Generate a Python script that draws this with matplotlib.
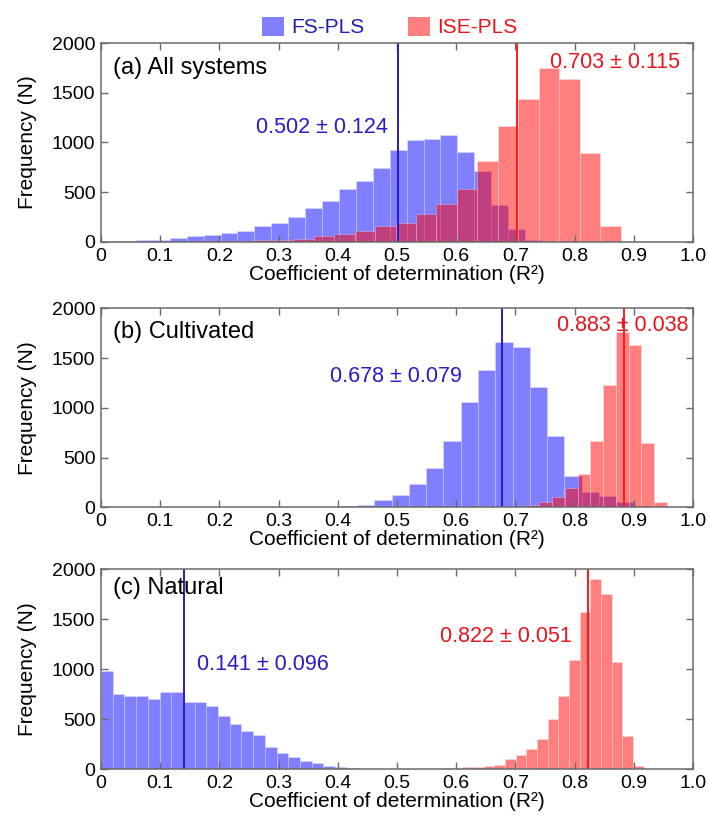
import numpy as np
import matplotlib
matplotlib.use("Agg")
import matplotlib.pyplot as plt
from matplotlib.patches import Patch
from matplotlib.transforms import blended_transform_factory

plt.rcParams["font.family"] = ["Liberation Sans", "DejaVu Sans"]

# Histogram bins: first edge, bin width and counts for each panel
fs_all_start, fs_all_width = 0.002, 0.02857
fs_all_counts = [8, 12, 18, 25, 40, 57, 67, 90, 114, 157, 191, 248, 342, 415,
                 536, 610, 740, 921, 1028, 1039, 1079, 901, 710, 375, 134, 17]
ise_all_start, ise_all_width = 0.0128, 0.03462
ise_all_counts = [1, 2, 3, 4, 6, 8, 11, 16, 23, 34, 57, 84, 114, 157, 195, 281,
                  385, 536, 817, 1162, 1437, 1749, 1638, 894, 164]

fs_cult_start, fs_cult_width = 0.199, 0.02919
fs_cult_counts = [1, 1, 2, 3, 4, 6, 10, 15, 22, 75, 125, 233, 393, 668, 1057,
                  1385, 1665, 1615, 1210, 718, 318, 160, 120, 60, 15]
ise_cult_start, ise_cult_width = 0.4165, 0.02158
ise_cult_counts = [0, 0, 0, 0, 1, 1, 1, 2, 2, 3, 4, 5, 7, 10, 30, 55, 109, 200,
                   336, 668, 1230, 1766, 1632, 644, 59]

fs_nat_start, fs_nat_width = 0.0, 0.01977
fs_nat_counts = [982, 750, 733, 733, 700, 767, 775, 670, 670, 634, 534, 454,
                 381, 343, 226, 166, 126, 83, 60, 33, 20, 10, 6, 4, 3]
ise_nat_start, ise_nat_width = 0.466, 0.01802
ise_nat_counts = [1, 2, 3, 4, 5, 6, 8, 12, 18, 22, 30, 42, 100, 138, 203, 303,
                  503, 732, 1092, 1574, 1900, 1747, 1075, 336, 33]

panel_titles = ["(a) All systems", "(b) Cultivated", "(c) Natural"]
fs_mean = [0.502, 0.678, 0.141]
fs_sd = [0.124, 0.079, 0.096]
ise_mean = [0.703, 0.883, 0.822]
ise_sd = [0.115, 0.038, 0.051]

x_ticks = [0, 0.1, 0.2, 0.3, 0.4, 0.5, 0.6, 0.7, 0.8, 0.9, 1.0]
x_tick_labels = ["0", "0.1", "0.2", "0.3", "0.4", "0.5", "0.6", "0.7", "0.8", "0.9", "1.0"]
y_ticks = [0, 500, 1000, 1500, 2000]

fs_hist = [(fs_all_start, fs_all_width, fs_all_counts),
           (fs_cult_start, fs_cult_width, fs_cult_counts),
           (fs_nat_start, fs_nat_width, fs_nat_counts)]
ise_hist = [(ise_all_start, ise_all_width, ise_all_counts),
            (ise_cult_start, ise_cult_width, ise_cult_counts),
            (ise_nat_start, ise_nat_width, ise_nat_counts)]

# styling
BLUE_FACE = (0.0, 0.0, 1.0, 0.5)
RED_FACE = (1.0, 0.0, 0.0, 0.5)
BAR_EDGE = (1.0, 1.0, 1.0, 0.3)
BLUE_LINE = "#2a1cc4"
RED_LINE = "#ff1a1a"
BLUE_TEXT = "#2a1cc4"
RED_TEXT = "#e8141e"
SPINE = "#6a6a6a"
FS = 15

# text placement per panel (data x, axes-fraction y, alignment)
title_y = [0.874, 0.8825, 0.9036]
fs_text_pos = [(0.485, 0.573, "right"), (0.6096, 0.657, "right"), (0.1617, 0.521, "left")]
ise_text_pos = [(0.759, 0.903, "left"), (0.770, 0.916, "left"), (0.7955, 0.6655, "right")]

W, H = 709, 822
fig = plt.figure(figsize=(W / 100, H / 100), dpi=100)

# axes boxes in pixels: (left, top, right, bottom)
boxes = [(101, 43, 693, 242), (101, 308.3, 693, 507.5), (101, 569, 693, 769.3)]


def draw_hist(ax, start, width, counts, face):
    counts = np.asarray(counts, dtype=float)
    left = start + width * np.arange(len(counts))
    ax.bar(left, counts, width=width, align="edge", facecolor=face,
           edgecolor=BAR_EDGE, linewidth=0.6)


for i, (l, t, r, b) in enumerate(boxes):
    ax = fig.add_axes([l / W, 1 - b / H, (r - l) / W, (b - t) / H])
    draw_hist(ax, *fs_hist[i], BLUE_FACE)
    draw_hist(ax, *ise_hist[i], RED_FACE)
    ax.axvline(fs_mean[i], color=BLUE_LINE, lw=1.4)
    ax.axvline(ise_mean[i], color=RED_LINE, lw=1.4)

    ax.set_xlim(0, 1.0)
    ax.set_ylim(0, 2000)
    ax.set_xticks(x_ticks)
    ax.set_xticklabels(x_tick_labels)
    ax.set_yticks(y_ticks)
    ax.tick_params(direction="in", length=5, width=1, colors=SPINE,
                   labelcolor="black", labelsize=14, top=True, right=True,
                   pad=4)
    for s in ax.spines.values():
        s.set_color(SPINE)
        s.set_linewidth(1.1)

    ax.set_xlabel("Coefficient of determination (R\u00b2)", fontsize=FS, labelpad=0)
    ax.set_ylabel("Frequency (N)", fontsize=FS, labelpad=11)

    ax.text(0.02, title_y[i], panel_titles[i], transform=ax.transAxes,
            fontsize=FS + 2, va="center", ha="left")

    mixed = blended_transform_factory(ax.transData, ax.transAxes)
    fx, fy, fha = fs_text_pos[i]
    ax.text(fx, fy, f"{fs_mean[i]:.3f} \u00b1 {fs_sd[i]:.3f}", transform=mixed,
            color=BLUE_TEXT, fontsize=FS + 0.5, ha=fha, va="center")
    rx, ry, rha = ise_text_pos[i]
    ax.text(rx, ry, f"{ise_mean[i]:.3f} \u00b1 {ise_sd[i]:.3f}", transform=mixed,
            color=RED_TEXT, fontsize=FS + 0.5, ha=rha, va="center")

handles = [Patch(facecolor=BLUE_FACE, edgecolor="none"),
           Patch(facecolor=RED_FACE, edgecolor="none")]
leg = fig.legend(handles, ["FS-PLS", "ISE-PLS"], loc="center",
                 bbox_to_anchor=(390 / W, 1 - 27 / H), ncol=2, frameon=False,
                 fontsize=FS, handlelength=1.05, handleheight=1.05,
                 handletextpad=0.35, columnspacing=2.1, borderpad=0)
for txt, c in zip(leg.get_texts(), ["#2020b0", RED_TEXT]):
    txt.set_color(c)

fig.savefig("out.png", dpi=100)
